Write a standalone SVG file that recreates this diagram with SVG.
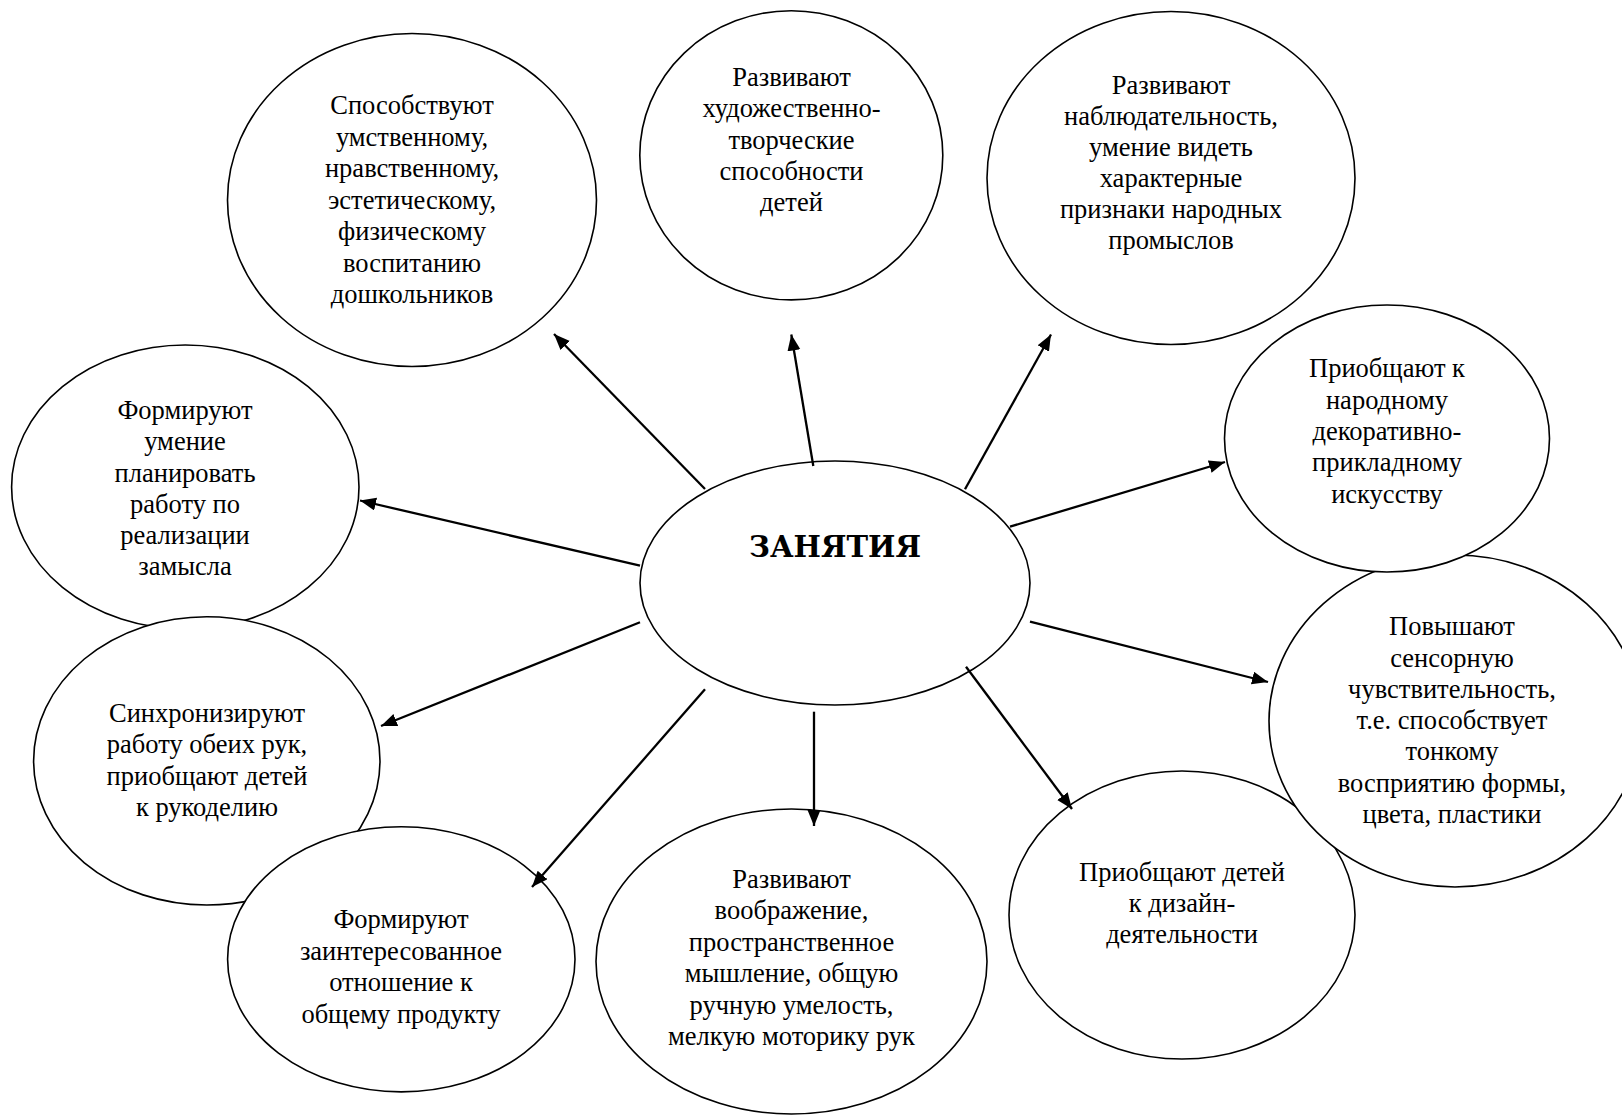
<svg xmlns="http://www.w3.org/2000/svg" width="1622" height="1116" viewBox="0 0 1622 1116">
<style>
.n ellipse{fill:#fff;stroke:#000;stroke-width:1.6}
.n text{font-family:"Liberation Serif","Times New Roman",serif;font-size:26.5px;fill:#000;text-anchor:middle}
.c line{stroke:#000;stroke-width:2.3;marker-end:url(#ah)}
.n text.title{font-family:"DejaVu Serif",serif;font-weight:bold;font-size:29px;fill:#000;text-anchor:middle}
</style>
<defs>
<marker id="ah" markerUnits="userSpaceOnUse" markerWidth="18" markerHeight="14" refX="16" refY="6.5" orient="auto">
<path d="M0,0 L16,6.5 L0,13 z" fill="#000"/>
</marker>
</defs>
<rect width="1622" height="1116" fill="#fff"/>
<g id="n6" class="n">
<ellipse cx="1182" cy="915" rx="173" ry="144"/>
<text x="1182" y="881">Приобщают детей</text>
<text x="1182" y="912">к дизайн-</text>
<text x="1182" y="943">деятельности</text>
</g>
<g id="n5" class="n">
<ellipse cx="1455" cy="721" rx="186" ry="166"/>
<text x="1452" y="635">Повышают</text>
<text x="1452" y="666.5">сенсорную</text>
<text x="1452" y="698">чувствительность,</text>
<text x="1452" y="729">т.е. способствует</text>
<text x="1452" y="760">тонкому</text>
<text x="1452" y="791.5">восприятию формы,</text>
<text x="1452" y="823">цвета, пластики</text>
</g>
<g id="n4" class="n">
<ellipse cx="1387" cy="438.5" rx="162.5" ry="133.5"/>
<text x="1387" y="377">Приобщают к</text>
<text x="1387" y="408.5">народному</text>
<text x="1387" y="440">декоративно-</text>
<text x="1387" y="471">прикладному</text>
<text x="1387" y="502.5">искусству</text>
</g>
<g id="n3" class="n">
<ellipse cx="1171" cy="178" rx="184" ry="166.5"/>
<text x="1171" y="93.5">Развивают</text>
<text x="1171" y="124.5">наблюдательность,</text>
<text x="1171" y="155.5">умение видеть</text>
<text x="1171" y="186.5">характерные</text>
<text x="1171" y="217.5">признаки народных</text>
<text x="1171" y="248.5">промыслов</text>
</g>
<g id="n2" class="n">
<ellipse cx="791.3" cy="155.3" rx="151.5" ry="144.6"/>
<text x="791.5" y="86">Развивают</text>
<text x="791.5" y="117">художественно-</text>
<text x="791.5" y="148.5">творческие</text>
<text x="791.5" y="179.5">способности</text>
<text x="791.5" y="210.5">детей</text>
</g>
<g id="n1" class="n">
<ellipse cx="412" cy="200" rx="184.5" ry="166.5"/>
<text x="412" y="114">Способствуют</text>
<text x="412" y="145.5">умственному,</text>
<text x="412" y="177">нравственному,</text>
<text x="412" y="209">эстетическому,</text>
<text x="412" y="240">физическому</text>
<text x="412" y="271.5">воспитанию</text>
<text x="412" y="303">дошкольников</text>
</g>
<g id="n10" class="n">
<ellipse cx="185.3" cy="487" rx="173.7" ry="142"/>
<text x="185" y="418.5">Формируют</text>
<text x="185" y="450">умение</text>
<text x="185" y="481.5">планировать</text>
<text x="185" y="513">работу по</text>
<text x="185" y="544">реализации</text>
<text x="185" y="575">замысла</text>
</g>
<g id="n9" class="n">
<ellipse cx="206.8" cy="760.9" rx="173.2" ry="144.1"/>
<text x="207" y="721.5">Синхронизируют</text>
<text x="207" y="753">работу обеих рук,</text>
<text x="207" y="784.5">приобщают детей</text>
<text x="207" y="816">к рукоделию</text>
</g>
<g id="n8" class="n">
<ellipse cx="401.3" cy="959.3" rx="173.7" ry="132.6"/>
<text x="401" y="928">Формируют</text>
<text x="401" y="959.5">заинтересованное</text>
<text x="401" y="991">отношение к</text>
<text x="401" y="1022.5">общему продукту</text>
</g>
<g id="n7" class="n">
<ellipse cx="791.5" cy="961.5" rx="195.5" ry="152.5"/>
<text x="791.5" y="887.5">Развивают</text>
<text x="791.5" y="919">воображение,</text>
<text x="791.5" y="950.5">пространственное</text>
<text x="791.5" y="982">мышление, общую</text>
<text x="791.5" y="1013.5">ручную умелость,</text>
<text x="791.5" y="1044.5">мелкую моторику рук</text>
</g>
<g id="center" class="n">
<ellipse cx="835" cy="583" rx="195" ry="122"/>
<text class="title" x="835" y="556.7">ЗАНЯТИЯ</text>
</g>
<g id="connectors" class="c">
<line x1="705" y1="489" x2="554" y2="334"/>
<line x1="813.3" y1="466" x2="791.3" y2="334.5"/>
<line x1="965" y1="489.3" x2="1051" y2="334.5"/>
<line x1="1010" y1="526.7" x2="1225" y2="462"/>
<line x1="1030" y1="621.7" x2="1268" y2="682"/>
<line x1="966" y1="666.7" x2="1072" y2="809"/>
<line x1="814" y1="711.7" x2="814" y2="826"/>
<line x1="705" y1="689.3" x2="532" y2="887"/>
<line x1="640" y1="622.3" x2="381" y2="726"/>
<line x1="640" y1="565.7" x2="360" y2="500.5"/>
</g>
</svg>
